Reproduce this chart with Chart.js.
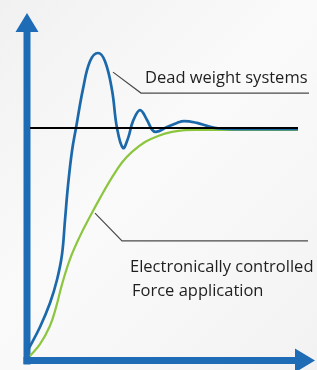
<!DOCTYPE html>
<html>
<head>
<meta charset="utf-8">
<script src="https://cdn.jsdelivr.net/npm/chart.js@4"></script>
<style>
  body { margin: 0; background: #f6f6f6; }
  #wrap { width: 317px; height: 370px; background: linear-gradient(135deg, #f1f1f1 0%, #fafafa 45%, #f7f7f7 70%, #f2f2f2 100%); }
</style>
</head>
<body>
<div id="wrap"><canvas id="chart" width="317" height="370"></canvas></div>
<script>
/* -----------------------
data (time in px-ish units, force relative to set point)
-------------------------- */
const deadTime  = [0, 12, 22, 29, 34, 37, 40, 44, 48, 55, 62, 70, 77, 84, 89, 95, 100, 105, 112, 119, 124, 128, 139, 149, 156, 169, 179, 190, 220, 270];
const deadForce = [0.035, 0.135, 0.239, 0.34, 0.45, 0.6, 0.75, 0.9, 1.0, 1.17, 1.29, 1.326, 1.29, 1.165, 1.0, 0.913, 0.955, 1.03, 1.078, 1.035, 0.993, 0.983, 1.004, 1.022, 1.03, 1.022, 1.009, 0.998, 0.995, 0.995];

const elecTime  = [2, 12, 22, 28, 34, 42, 52, 62, 72, 84, 94, 104, 117, 130, 144, 157, 175, 270];
const elecForce = [0.009, 0.06, 0.14, 0.22, 0.32, 0.43, 0.53, 0.615, 0.695, 0.785, 0.85, 0.896, 0.939, 0.965, 0.983, 0.991, 0.992, 0.992];

const levelTime  = [2, 270];
const levelForce = [1, 1];

const labelDead = ["Dead weight systems"];
const labelElec = ["Electronically controlled", "Force application"];

const axisBlue = "#1e6cb5";

function pts(xs, ys) {
  return xs.map((x, i) => ({ x: x, y: ys[i] }));
}

/* -----------------------
axes arrows + leader lines
-------------------------- */
const arrowAxes = {
  id: "arrowAxes",
  beforeDatasetsDraw(chart) {
    const ctx = chart.ctx;
    const a = chart.chartArea;
    const ax = a.left - 1;
    const ay = a.bottom + 2.5;
    ctx.save();
    ctx.fillStyle = axisBlue;
    // y axis
    ctx.fillRect(ax - 3.5, a.top + 18, 7, ay + 4 - (a.top + 18));
    ctx.beginPath();
    ctx.moveTo(ax, a.top);
    ctx.lineTo(ax + 11.5, a.top + 19);
    ctx.lineTo(ax - 11.5, a.top + 19);
    ctx.closePath();
    ctx.fill();
    // x axis
    ctx.fillRect(ax - 3.5, ay - 3.5, 296 - (ax - 3.5), 7);
    ctx.beginPath();
    ctx.moveTo(315, ay);
    ctx.lineTo(295, ay - 12);
    ctx.lineTo(295, ay + 12);
    ctx.closePath();
    ctx.fill();
    ctx.restore();
  },
  afterDraw(chart) {
    const ctx = chart.ctx;
    const xs = chart.scales.x, ys = chart.scales.y;
    const px = v => xs.getPixelForValue(v);
    const py = v => ys.getPixelForValue(v);
    ctx.save();
    ctx.strokeStyle = "#4a4a4a";
    ctx.lineWidth = 1.2;
    // leader for dead weight
    ctx.beginPath();
    ctx.moveTo(px(85), py(1.243));
    ctx.lineTo(px(113), py(1.152));
    ctx.lineTo(px(281), py(1.152));
    ctx.stroke();
    // leader for electronic
    ctx.beginPath();
    ctx.moveTo(px(67), py(0.63));
    ctx.lineTo(px(94), py(0.509));
    ctx.lineTo(px(280), py(0.509));
    ctx.stroke();

    ctx.fillStyle = "#1f1f1f";
    ctx.font = "16.5px 'Open Sans'";
    ctx.textBaseline = "alphabetic";
    ctx.fillText(labelDead[0], px(117), py(1.196));
    ctx.fillText(labelElec[0], px(102), py(0.374));
    ctx.fillText(labelElec[1], px(104), py(0.27));
    ctx.restore();
  }
};

new Chart(document.getElementById("chart"), {
  type: "scatter",
  data: {
    datasets: [
      {
        label: "Set point",
        data: pts(levelTime, levelForce),
        showLine: true,
        borderColor: "#000000",
        borderWidth: 2,
        pointRadius: 0,
        order: 0
      },
      {
        label: "Dead weight systems",
        data: pts(deadTime, deadForce),
        showLine: true,
        borderColor: "#1b68aa",
        borderWidth: 2.7,
        pointRadius: 0,
        tension: 0.4,
        order: 1
      },
      {
        label: "Electronically controlled",
        data: pts(elecTime, elecForce),
        showLine: true,
        borderColor: "#8cc63f",
        borderWidth: 2.2,
        pointRadius: 0,
        tension: 0.4,
        order: 2
      }
    ]
  },
  options: {
    responsive: false,
    animation: false,
    layout: { padding: { left: 28, right: 0, top: 13, bottom: 12 } },
    plugins: { legend: { display: false }, tooltip: { enabled: false } },
    scales: {
      x: { type: "linear", min: 0, max: 289, display: false },
      y: { min: 0, max: 1.5, display: false }
    }
  },
  plugins: [arrowAxes]
});
</script>
</body>
</html>
